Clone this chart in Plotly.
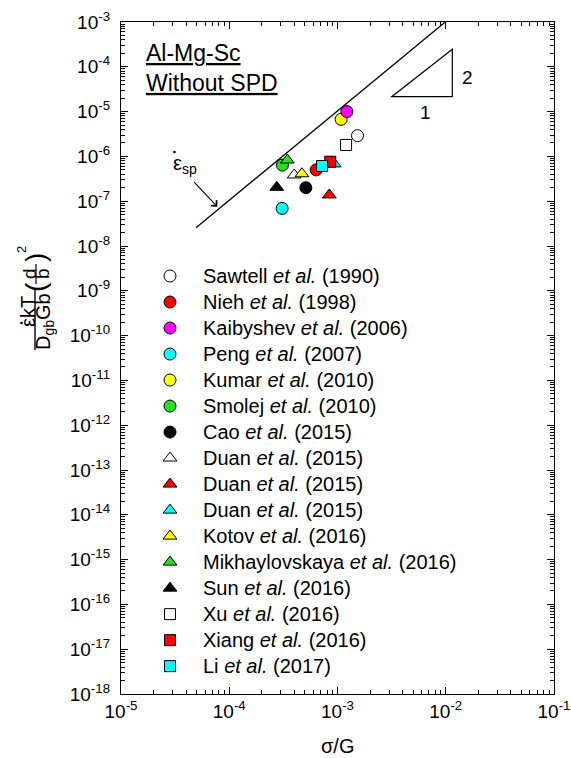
import plotly.graph_objects as go

# ---------------- data ----------------
authors = ["Sawtell", "Nieh", "Kaibyshev", "Peng", "Kumar", "Smolej", "Cao",
           "Duan", "Duan", "Duan", "Kotov", "Mikhaylovskaya", "Sun", "Xu",
           "Xiang", "Li"]
years = [1990, 1998, 2006, 2007, 2010, 2010, 2015, 2015, 2015, 2015,
         2016, 2016, 2016, 2016, 2016, 2017]
sigma_over_G = [1.53e-3, 6.35e-4, 1.22e-3, 3.08e-4, 1.08e-3, 3.10e-4, 5.10e-4,
                3.98e-4, 8.40e-4, 9.30e-4, 4.69e-4, 3.44e-4, 2.75e-4, 1.20e-3,
                8.57e-4, 7.20e-4]
norm_rate = [2.9e-6, 5.0e-7, 1.0e-5, 6.9e-8, 6.7e-6, 6.4e-7, 2.0e-7,
             3.85e-7, 1.38e-7, 6.8e-7, 4.1e-7, 8.3e-7, 2.04e-7, 1.8e-6,
             7.6e-7, 6.1e-7]
# superplastic line (slope 2) end points
sp_line_sigma = [4.93e-5, 9.9e-3]
sp_line_rate = [2.57e-8, 1.0e-3]

x_tick_exp = [-5, -4, -3, -2, -1]
y_tick_exp = list(range(-18, -2))

# ---------------- styles ----------------
symbols = ["circle"] * 7 + ["triangle-up"] * 6 + ["square"] * 3
fills = ["#ffffff", "#ff0000", "#ff00ff", "#00ffff", "#ffff00", "#22e022", "#000000",
         "#ffffff", "#ff0000", "#00ffff", "#ffff00", "#22e022", "#000000",
         "#ffffff", "#ff0000", "#00ffff"]
sizes = {"circle": 12, "triangle-up": 12, "square": 11}
draw_order = [0, 1, 3, 4, 2, 5, 6, 7, 8, 9, 10, 11, 12, 13, 14, 15]

FONT = "Liberation Sans, Arial, Helvetica, sans-serif"
W, H = 571, 758
L, R, T, B = 121, 554, 22, 694
PW, PH = R - L, B - T


def P(px, py):
    return (px - L) / PW, (B - py) / PH


fig = go.Figure()

fig.add_trace(go.Scatter(x=sp_line_sigma, y=sp_line_rate, mode="lines",
                         line=dict(color="black", width=1.3),
                         showlegend=False, hoverinfo="skip"))

for i in draw_order:
    label = (f'<span style="font-size:20px">{authors[i]} <i>et al.</i> '
             f'({years[i]})</span>')
    fig.add_trace(go.Scatter(
        x=[sigma_over_G[i]], y=[norm_rate[i]], mode="markers",
        name=label, legendrank=i + 1,
        marker=dict(symbol=symbols[i], size=sizes[symbols[i]], color=fills[i],
                    line=dict(color="black", width=1)),
    ))

x_minor = [k * 10.0 ** e for e in range(-5, -1) for k in range(2, 10)]
y_minor = [k * 10.0 ** e for e in range(-18, -3) for k in range(2, 10)]

axis_common = dict(showline=True, linecolor="black", linewidth=1.3,
                   mirror="ticks", ticks="inside", ticklen=7, tickwidth=1,
                   tickcolor="black", showgrid=False, zeroline=False,
                   automargin=False,
                   tickfont=dict(family=FONT, size=19, color="black"))

fig.update_xaxes(type="log", range=[-5, -1],
                 tickvals=[10.0 ** e for e in x_tick_exp],
                 ticktext=[f"10<sup>{e}</sup>" for e in x_tick_exp],
                 minor=dict(tickvals=x_minor, ticks="inside", ticklen=4,
                            tickcolor="black", tickwidth=1),
                 **axis_common)
fig.update_yaxes(type="log", range=[-18, -3],
                 tickvals=[10.0 ** e for e in y_tick_exp],
                 ticktext=[f"10<sup>{e}</sup>" for e in y_tick_exp],
                 ticklabelstandoff=6,
                 minor=dict(tickvals=y_minor, ticks="inside", ticklen=4,
                            tickcolor="black", tickwidth=1),
                 **axis_common)

ann = []
shapes = []


def text(px, py, s, size, angle=0, xa="center", ya="middle", align="center"):
    x, y = P(px, py)
    ann.append(dict(x=x, y=y, xref="paper", yref="paper", text=s,
                    showarrow=False, textangle=angle, xanchor=xa, yanchor=ya,
                    align=align, font=dict(family=FONT, size=size, color="black")))


def line(p0, p1, w=1.3):
    x0, y0 = P(*p0)
    x1, y1 = P(*p1)
    shapes.append(dict(type="line", xref="paper", yref="paper", x0=x0, y0=y0,
                       x1=x1, y1=y1, line=dict(color="black", width=w)))


def dot(px, py, r=1.3):
    x0, y0 = P(px - r, py + r)
    x1, y1 = P(px + r, py - r)
    shapes.append(dict(type="circle", xref="paper", yref="paper", x0=x0, y0=y0,
                       x1=x1, y1=y1, fillcolor="black", line=dict(width=0)))


# title block
text(144, 38, "<u>Al-Mg-Sc</u><br><u>Without SPD</u>", 23, xa="left", ya="top",
     align="left")

# slope triangle
tri = [P(391.7, 96.7), P(452.3, 96.7), P(452.3, 49.3)]
shapes.append(dict(type="path", xref="paper", yref="paper",
                   path="M {} {} L {} {} L {} {} Z".format(*[c for pt in tri for c in pt]),
                   line=dict(color="black", width=1.2)))
text(467, 77, "2", 19)
text(425, 113, "1", 19)

# strain-rate label and arrow
text(185, 164, "\u03b5<sub>sp</sub>", 20)
dot(174.5, 152)
hx, hy = P(217.3, 206.7)
ann.append(dict(x=hx, y=hy, xref="paper", yref="paper", text="", showarrow=True,
                ax=-24.6, ay=-26, arrowhead=4, arrowsize=1.4, arrowwidth=1.1,
                arrowcolor="black", standoff=0))

# x title
text(337, 746, "\u03c3/G", 20)

# y title (rotated fraction)
line((35, 289), (35, 350), 1.4)
text(28, 312, "\u03b5kT", 20, angle=-90)
dot(21.5, 323)
text(44, 322, "D<sub>gb</sub>Gb", 20, angle=-90)
text(35, 287, "(", 28, angle=-90)
text(35, 258, ")", 28, angle=-90)
text(29, 274, "d", 19, angle=-90)
text(42, 274, "b", 19, angle=-90)
line((36, 264), (36, 284), 1.2)
text(21, 250, "2", 13, angle=-90)

lx, ly = P(137, 258)
fig.update_layout(
    width=W, height=H,
    margin=dict(l=L, r=W - R, t=T, b=H - B, pad=0, autoexpand=False),
    plot_bgcolor="white", paper_bgcolor="white",
    font=dict(family=FONT, size=18, color="black"),
    showlegend=True,
    legend=dict(x=lx, y=ly, xanchor="left", yanchor="top",
                bgcolor="rgba(0,0,0,0)", borderwidth=0,
                font=dict(family=FONT, size=17.7, color="black"),
                itemwidth=56, traceorder="normal"),
    annotations=ann, shapes=shapes,
)

fig.write_html("out.html", config={"displayModeBar": False},
               post_script="document.body.style.margin='0';"
                           "document.body.style.padding='0';"
                           "document.documentElement.style.overflow='hidden';")
